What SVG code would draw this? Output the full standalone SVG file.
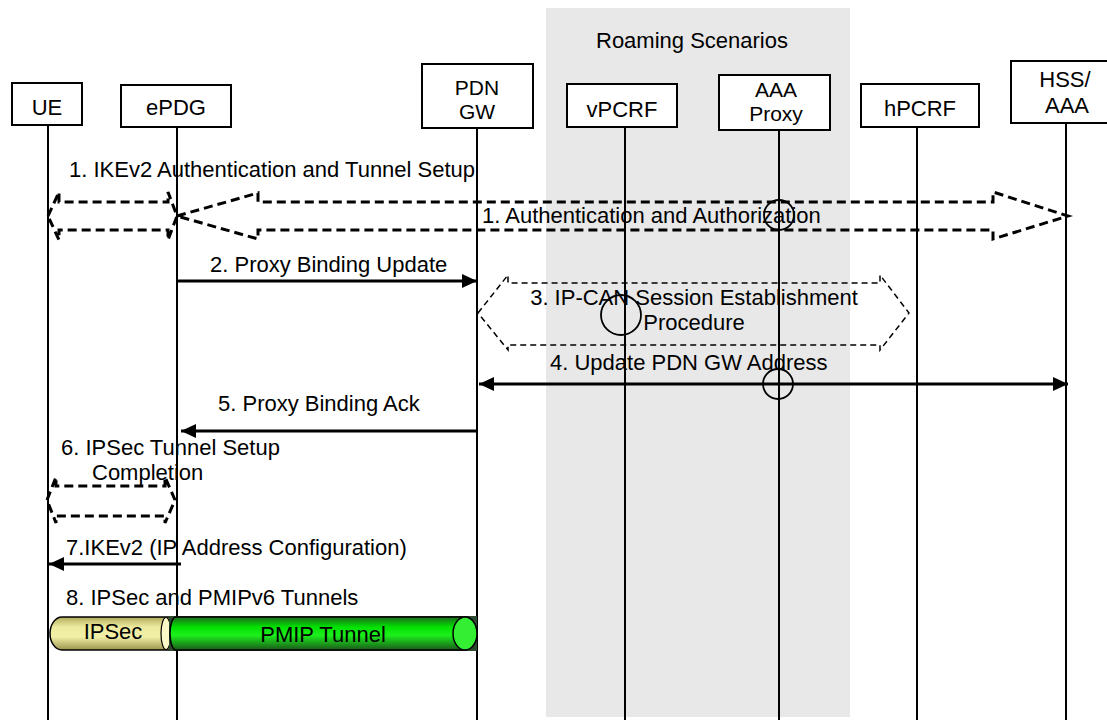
<svg xmlns="http://www.w3.org/2000/svg" width="1107" height="722" viewBox="0 0 1107 722">
<style>
text{font-family:"Liberation Sans",Arial,sans-serif;font-size:22px;fill:#000}
.box{fill:#fff;stroke:#000;stroke-width:2}
.life{stroke:#000;stroke-width:2;fill:none}
.msg{stroke:#000;stroke-width:3;fill:none}
.tdash{stroke:#000;stroke-width:3;fill:none;stroke-dasharray:9 5}
.sdash{stroke:#000;stroke-width:1.5;fill:none;stroke-dasharray:6 4}
.circ{stroke:#000;stroke-width:1.8;fill:none}
.mid{text-anchor:middle}
.two{font-size:21px}
</style>
<defs>
<marker id="ah" markerUnits="userSpaceOnUse" markerWidth="15" markerHeight="14" refX="15" refY="7" orient="auto-start-reverse">
<path d="M0,0 L15,7 L0,14 Z" fill="#000"/>
</marker>
<linearGradient id="gy" x1="0" y1="0" x2="0" y2="1">
<stop offset="0" stop-color="#b4ac5c"/>
<stop offset="0.3" stop-color="#ecea9e"/>
<stop offset="0.6" stop-color="#f2f0a8"/>
<stop offset="1" stop-color="#9c944c"/>
</linearGradient>
<linearGradient id="gg" x1="0" y1="0" x2="0" y2="1">
<stop offset="0" stop-color="#1e6a1e"/>
<stop offset="0.3" stop-color="#00e000"/>
<stop offset="0.55" stop-color="#1cf01c"/>
<stop offset="1" stop-color="#1a5a1a"/>
</linearGradient>
</defs>

<rect id="roaming" x="546" y="8" width="304" height="709" fill="#e8e8e8"/>
<text x="596" y="48">Roaming Scenarios</text>

<g id="lifelines">
<line class="life" x1="48" y1="125" x2="48" y2="720"/>
<line class="life" x1="177" y1="127" x2="177" y2="720"/>
<line class="life" x1="477" y1="128" x2="477" y2="720"/>
<line class="life" x1="625" y1="127" x2="625" y2="720"/>
<line class="life" x1="779" y1="130" x2="779" y2="720"/>
<line class="life" x1="917" y1="127" x2="917" y2="720"/>
<line class="life" x1="1066" y1="123" x2="1066" y2="720"/>
</g>

<g id="UE"><rect class="box" x="12" y="83" width="70" height="42"/><text class="mid" x="47" y="115">UE</text></g>
<g id="ePDG"><rect class="box" x="121" y="85" width="110" height="42"/><text class="mid" x="176" y="115">ePDG</text></g>
<g id="PDNGW"><rect class="box" x="422" y="64" width="111" height="64"/><text class="mid two" x="477" y="95">PDN</text><text class="mid two" x="477" y="119">GW</text></g>
<g id="vPCRF"><rect class="box" x="567" y="84" width="110" height="43"/><text class="mid" x="622" y="117">vPCRF</text></g>
<g id="AAAProxy"><rect class="box" x="719" y="75" width="111" height="55"/><text class="mid two" x="776" y="97">AAA</text><text class="mid two" x="776" y="121">Proxy</text></g>
<g id="hPCRF"><rect class="box" x="861" y="84" width="118" height="43"/><text class="mid" x="920" y="116">hPCRF</text></g>
<g id="HSSAAA"><rect class="box" x="1011" y="61" width="112" height="62"/><text class="mid" x="1065" y="87">HSS/</text><text class="mid" x="1067" y="113">AAA</text></g>

<g id="connectors">
<text x="69" y="177">1. IKEv2 Authentication and Tunnel Setup</text>
<path class="tdash" d="M48,216 L59,192 L59,202 L168,202 L168,192 L177,216 L168,240 L168,230 L59,230 L59,240 Z"/>
<path class="tdash" d="M177,216 L258,193 L258,202 L993,202 L993,192 L1068,216 L993,239 L993,230 L258,230 L258,239 Z"/>
<text x="482" y="223">1. Authentication and Authorization</text>
<circle class="circ" cx="779" cy="215" r="15"/>
<text x="210" y="272">2. Proxy Binding Update</text>
<line class="msg" x1="177" y1="281" x2="477" y2="281" marker-end="url(#ah)"/>
<path class="sdash" d="M478,313 L508,275 L508,283 L880,283 L880,275 L909,313 L880,350 L880,345 L508,345 L508,350 Z"/>
<text class="mid" x="694" y="305">3. IP-CAN Session Establishment</text>
<text class="mid" x="694" y="330">Procedure</text>
<circle class="circ" cx="621" cy="315" r="20"/>
<text x="550" y="370">4. Update PDN GW Address</text>
<line class="msg" x1="479" y1="384" x2="1068" y2="384" marker-start="url(#ah)" marker-end="url(#ah)"/>
<circle class="circ" cx="778" cy="384" r="15"/>
<text x="218" y="411">5. Proxy Binding Ack</text>
<line class="msg" x1="477" y1="431" x2="181" y2="431" marker-end="url(#ah)"/>
<text x="61" y="455">6. IPSec Tunnel Setup</text>
<text x="92" y="480">Completion</text>
<path class="tdash" d="M47,500 L56,477 L56,486 L165,486 L165,477 L175,500 L165,523 L165,516 L56,516 L56,523 Z"/>
<text x="66" y="555">7.IKEv2 (IP Address Configuration)</text>
<line class="msg" x1="181" y1="564" x2="49" y2="564" marker-end="url(#ah)"/>
<text x="66" y="605">8. IPSec and PMIPv6 Tunnels</text>
</g>

<g id="tunnels">
<path d="M170,617 H62 A12,16.5 0 0 0 62,650 H170 Z" fill="url(#gy)" stroke="#000" stroke-width="1.5"/>
<ellipse cx="166" cy="633.5" rx="5" ry="16" fill="#fbf8c8" stroke="#000" stroke-width="1.2"/>
<rect x="169" y="616" width="308" height="35" fill="#2e4a2e"/>
<path d="M176,617 H465 A12,16.5 0 0 1 465,650 H176 A6,16.5 0 0 1 176,617 Z" fill="url(#gg)" stroke="#000" stroke-width="1.5"/>
<ellipse cx="465" cy="633.5" rx="12" ry="16.5" fill="#33ee33" stroke="#000" stroke-width="1.5"/>
<text class="mid" x="113" y="639">IPSec</text>
<text class="mid" x="323" y="642">PMIP Tunnel</text>
</g>
</svg>
